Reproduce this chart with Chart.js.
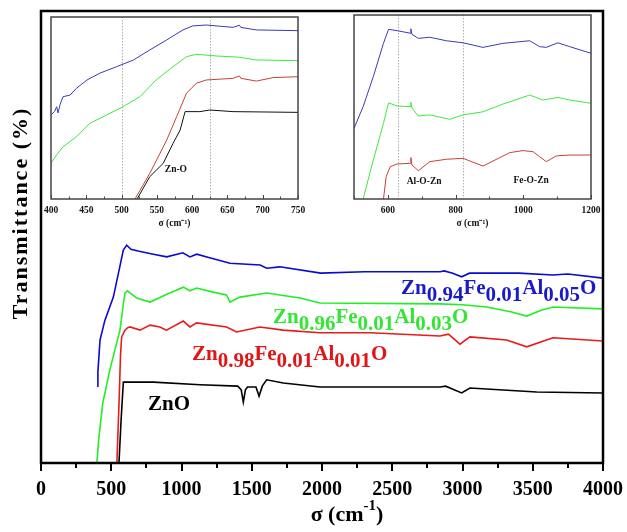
<!DOCTYPE html>
<html>
<head>
<meta charset="utf-8">
<script src="https://cdn.jsdelivr.net/npm/chart.js@4.4.1/dist/chart.umd.min.js"></script>
<style>
body { margin: 0; background: #fff; }
#wrap { position: relative; width: 627px; height: 532px; }
#wrap canvas { position: absolute; }
</style>
</head>
<body>
<div id="wrap">
  <canvas id="mainChart" width="627" height="532" style="left:0;top:0"></canvas>
  <canvas id="inset1" width="270" height="226" style="left:40px;top:8px"></canvas>
  <canvas id="inset2" width="262" height="228" style="left:343px;top:6px"></canvas>
</div>
<script>
// ---- main spectra (wavenumber, transmittance a.u.) ----
var blueX  = [400, 405, 420, 455, 515, 586, 610, 640, 690, 800, 895, 1010, 1060, 1108, 1200, 1345, 1560, 1606, 1700, 1990, 2300, 2840, 2870, 2930, 2994, 3050, 3400, 3644, 3750, 4000];
var blueY  = [17.0, 20.1, 27.2, 31.6, 36.7, 47.1, 48.2, 47.3, 46.9, 46.2, 45.6, 46.5, 45.6, 46.2, 45.4, 44.2, 43.8, 43.1, 43.4, 42.0, 42.3, 42.3, 42.5, 42.0, 41.2, 42.0, 42.0, 41.6, 41.8, 40.9];

var greenX = [398, 410, 440, 490, 562, 590, 598, 615, 681, 776, 900, 1013, 1060, 1108, 1224, 1320, 1345, 1416, 1606, 1843, 1986, 2840, 3000, 3172, 3350, 3457, 3560, 3644, 4000];
var greenY = [0, 5.1, 13.3, 20.6, 29.4, 36.1, 37.6, 38.1, 36.5, 35.6, 37.4, 38.9, 38.1, 38.7, 37.8, 37.2, 35.6, 36.7, 37.6, 36.5, 35.4, 35.2, 35.0, 34.5, 33.4, 32.5, 33.8, 34.5, 34.1];

var redX   = [540, 556, 566, 574, 598, 615, 633, 705, 776, 846, 893, 1013, 1060, 1108, 1321, 1392, 1558, 1724, 1986, 2342, 2840, 2900, 2982, 3053, 3314, 3457, 3644, 4000];
var redY   = [0, 13.9, 23.9, 27.9, 29.4, 29.9, 30.1, 29.4, 30.5, 30.1, 29.4, 31.4, 30.1, 31.0, 30.1, 29.0, 30.1, 29.4, 28.8, 28.8, 28.1, 28.5, 26.3, 27.9, 27.2, 25.7, 27.7, 27.0];

var blackX = [555, 570, 586, 800, 1132, 1400, 1425, 1440, 1455, 1470, 1530, 1552, 1575, 1606, 1724, 1986, 2840, 2880, 2994, 3053, 3528, 4000];
var blackY = [0, 9.5, 17.9, 17.9, 17.3, 17.0, 16.2, 13.5, 16.2, 16.8, 16.8, 14.8, 17.0, 18.4, 17.7, 16.8, 16.8, 17.0, 15.5, 16.6, 15.7, 15.5];

// ---- inset 1 (400-750 cm-1) ----
var in1BlueX  = [400, 405, 408, 410, 413, 417, 427, 436, 451, 469, 493, 517, 540, 564, 587, 601, 620, 658, 667, 669, 691, 750];
var in1BlueY  = [46.2, 48.0, 50.7, 47.3, 52.0, 56.2, 57.1, 60.8, 65.4, 69.1, 72.7, 76.4, 81.9, 87.4, 92.9, 95.1, 95.6, 94.3, 95.5, 94.3, 92.9, 92.5];
var in1GreenX = [400, 404, 408, 417, 436, 455, 479, 502, 526, 549, 573, 592, 606, 634, 667, 691, 750];
var in1GreenY = [19.6, 22.0, 24.2, 28.7, 34.2, 41.6, 46.2, 50.7, 56.2, 65.4, 72.7, 78.2, 79.5, 78.6, 77.9, 76.4, 76.0];
var in1RedX   = [519, 540, 564, 578, 592, 606, 620, 658, 667, 669, 691, 715, 750];
var in1RedY   = [0, 14.1, 32.4, 45.2, 58.1, 63.6, 65.4, 66.3, 67.6, 66.3, 64.8, 66.7, 67.2];
var in1BlackX = [522, 540, 559, 573, 583, 590, 611, 625, 658, 750];
var in1BlackY = [0, 12.3, 19.6, 30.6, 37.9, 48.0, 48.0, 48.9, 48.0, 47.6];
var in1Marks  = [500, 625];

// ---- inset 2 (500-1200 cm-1) ----
var in2BlueX  = [500, 527, 557, 587, 602, 627, 666, 668, 671, 690, 724, 773, 822, 881, 940, 1019, 1048, 1068, 1102, 1137, 1200];
var in2BlueY  = [38.4, 50.2, 66.5, 84.6, 92.2, 91.5, 90.1, 92.5, 89.5, 87.3, 87.9, 86.0, 84.9, 82.4, 84.6, 86.0, 82.8, 82.4, 84.9, 82.8, 79.2];
var in2GreenX = [527, 557, 587, 602, 627, 666, 668, 671, 690, 724, 783, 822, 881, 940, 1019, 1058, 1102, 1137, 1200];
var in2GreenY = [0, 21.2, 41.1, 52.3, 50.5, 50.2, 52.5, 49.5, 45.1, 45.7, 43.3, 45.7, 47.4, 51.6, 56.5, 53.8, 55.2, 53.8, 52.0];
var in2RedX   = [587, 595, 607, 627, 666, 668, 671, 690, 724, 773, 822, 881, 960, 999, 1029, 1048, 1068, 1097, 1137, 1200];
var in2RedY   = [0, 12.1, 17.6, 19.0, 19.4, 22.5, 18.5, 15.4, 20.3, 21.6, 22.1, 17.9, 25.2, 26.3, 25.7, 23.0, 20.3, 23.4, 23.9, 23.9];
var in2Marks  = [630, 822];

var FONT = '"Liberation Serif", "Times New Roman", serif';

function series(xs, ys, color, width) {
    return {
        data: xs.map(function (x, i) { return { x: x, y: ys[i] }; }),
        borderColor: color,
        borderWidth: width,
        pointRadius: 0,
        tension: 0,
        fill: false
    };
}

// keep the plot edges where we put them, labels may hang over
function noOverhang(s, h) {
    s.height = h;
    s.paddingLeft = 0;
    s.paddingRight = 0;
}

// text with subscripts: parts = [[text, isSub], ...]
function drawFormula(ctx, parts, x, y, color, size) {
    ctx.save();
    ctx.fillStyle = color;
    ctx.textBaseline = 'alphabetic';
    ctx.textAlign = 'left';
    ctx.font = 'bold ' + size + 'px ' + FONT;
    parts.forEach(function (p) {
        ctx.fillText(p[0], x, y + (p[1] ? 7 : 0));
        x += ctx.measureText(p[0]).width;
    });
    ctx.restore();
}

var mainDecor = {
    id: 'mainDecor',
    afterDraw: function (chart) {
        var ctx = chart.ctx, a = chart.chartArea, xs = chart.scales.x;
        ctx.save();
        // frame
        ctx.strokeStyle = '#000';
        ctx.lineWidth = 2.5;
        ctx.strokeRect(a.left, a.top, a.right - a.left, a.bottom - a.top);
        // ticks, major every 500, minor every 250
        ctx.lineWidth = 2;
        for (var v = 0; v <= 4000; v += 250) {
            var px = Math.round(xs.getPixelForValue(v));
            ctx.beginPath();
            ctx.moveTo(px, a.bottom);
            ctx.lineTo(px, a.bottom + (v % 500 ? 5 : 8));
            ctx.stroke();
        }
        // axis titles
        ctx.fillStyle = '#000';
        ctx.font = 'bold 22px ' + FONT;
        ctx.textBaseline = 'alphabetic';
        var t1 = 'σ (cm', t2 = '-1', t3 = ')';
        var w1 = ctx.measureText(t1).width;
        ctx.font = 'bold 15px ' + FONT;
        var w2 = ctx.measureText(t2).width;
        ctx.font = 'bold 22px ' + FONT;
        var w3 = ctx.measureText(t3).width;
        var sx = 347 - (w1 + w2 + w3) / 2;
        ctx.fillText(t1, sx, 521);
        ctx.font = 'bold 15px ' + FONT;
        ctx.fillText(t2, sx + w1, 510);
        ctx.font = 'bold 22px ' + FONT;
        ctx.fillText(t3, sx + w1 + w2, 521);

        ctx.translate(21, 213);
        ctx.rotate(-Math.PI / 2);
        ctx.textAlign = 'center';
        ctx.textBaseline = 'middle';
        ctx.font = 'bold 22px ' + FONT;
        ctx.letterSpacing = '2px';
        ctx.fillText('Transmittance (%)', 0, 0);
        ctx.restore();

        // sample labels
        drawFormula(ctx, [['Zn', 0], ['0.94', 1], ['Fe', 0], ['0.01', 1], ['Al', 0], ['0.05', 1], ['O', 0]], 401, 294, '#1a1ac8', 21);
        drawFormula(ctx, [['Zn', 0], ['0.96', 1], ['Fe', 0], ['0.01', 1], ['Al', 0], ['0.03', 1], ['O', 0]], 273, 323, '#33e633', 21);
        drawFormula(ctx, [['Zn', 0], ['0.98', 1], ['Fe', 0], ['0.01', 1], ['Al', 0], ['0.01', 1], ['O', 0]], 192, 360, '#e01515', 21);
        drawFormula(ctx, [['ZnO', 0]], 148, 410, '#000', 21);
    }
};

new Chart(document.getElementById('mainChart'), {
    type: 'line',
    data: {
        datasets: [
            series(blackX, blackY, '#000000', 1.6),
            series(redX, redY, '#e81a1a', 1.6),
            series(greenX, greenY, '#22ee22', 1.6),
            series(blueX, blueY, '#0a0ad0', 1.6)
        ]
    },
    options: {
        responsive: false,
        animation: false,
        devicePixelRatio: 1,
        layout: { padding: { left: 41, right: 24, top: 11, bottom: 0 } },
        plugins: { legend: { display: false }, tooltip: { enabled: false } },
        scales: {
            x: {
                type: 'linear', min: 0, max: 4000,
                border: { display: false },
                grid: { display: false, drawTicks: false },
                ticks: {
                    stepSize: 500, padding: 15, maxRotation: 0, color: '#000',
                    font: { family: FONT, size: 20, weight: 'bold' },
                    callback: function (v) { return String(v); }
                },
                afterFit: function (s) { noOverhang(s, 69); }
            },
            y: { min: 0, max: 100, display: false }
        }
    },
    plugins: [mainDecor]
});

function insetDecor(step, minor, marks, notes) {
    return {
        id: 'insetDecor',
        beforeDatasetsDraw: function (chart) {
            var ctx = chart.ctx, a = chart.chartArea, xs = chart.scales.x;
            ctx.save();
            ctx.strokeStyle = '#b0b0b0';
            ctx.lineWidth = 1;
            ctx.setLineDash([1.5, 1.5]);
            marks.forEach(function (m) {
                var px = Math.round(xs.getPixelForValue(m)) + 0.5;
                ctx.beginPath();
                ctx.moveTo(px, a.top);
                ctx.lineTo(px, a.bottom);
                ctx.stroke();
            });
            ctx.restore();
        },
        afterDraw: function (chart) {
            var ctx = chart.ctx, a = chart.chartArea, xs = chart.scales.x, ys = chart.scales.y;
            ctx.save();
            ctx.strokeStyle = '#444';
            ctx.lineWidth = 1.5;
            ctx.strokeRect(a.left, a.top, a.right - a.left, a.bottom - a.top);
            ctx.lineWidth = 1;
            for (var v = xs.min; v <= xs.max; v += minor) {
                var px = Math.round(xs.getPixelForValue(v)) + 0.5;
                ctx.beginPath();
                ctx.moveTo(px, a.bottom);
                ctx.lineTo(px, a.bottom - (v % step ? 2.5 : 4));
                ctx.stroke();
            }
            ctx.fillStyle = '#111';
            ctx.font = 'bold 9.5px ' + FONT;
            ctx.textAlign = 'center';
            ctx.textBaseline = 'middle';
            notes.forEach(function (n) {
                ctx.fillText(n.text, xs.getPixelForValue(n.x), ys.getPixelForValue(n.y));
            });
            ctx.restore();
        }
    };
}

function insetOptions(min, max, step, pad) {
    return {
        responsive: false,
        animation: false,
        devicePixelRatio: 1,
        layout: { padding: pad },
        plugins: { legend: { display: false }, tooltip: { enabled: false } },
        scales: {
            x: {
                type: 'linear', min: min, max: max,
                border: { display: false },
                grid: { display: false, drawTicks: false },
                ticks: {
                    stepSize: step, includeBounds: false, padding: 6, maxRotation: 0, color: '#111',
                    font: { family: FONT, size: 9.5, weight: 'bold' },
                    callback: function (v) { return String(v); }
                },
                title: {
                    display: true, text: 'σ (cm⁻¹)', color: '#111',
                    font: { family: FONT, size: 9.5, weight: 'bold' },
                    padding: { top: 2, bottom: 5 }
                },
                afterFit: function (s) { noOverhang(s, 35); }
            },
            y: { min: 0, max: 100, display: false }
        }
    };
}

new Chart(document.getElementById('inset1'), {
    type: 'line',
    data: {
        datasets: [
            series(in1BlackX, in1BlackY, '#111111', 1),
            series(in1RedX, in1RedY, '#c8403a', 1),
            series(in1GreenX, in1GreenY, '#3ee83e', 1),
            series(in1BlueX, in1BlueY, '#3a3ab8', 1)
        ]
    },
    options: insetOptions(400, 750, 50, { left: 11, right: 12, top: 9, bottom: 0 }),
    plugins: [insetDecor(50, 25, in1Marks, [{ text: 'Zn-O', x: 577, y: 16 }])]
});

new Chart(document.getElementById('inset2'), {
    type: 'line',
    data: {
        datasets: [
            series(in2RedX, in2RedY, '#c8403a', 1),
            series(in2GreenX, in2GreenY, '#3ee83e', 1),
            series(in2BlueX, in2BlueY, '#3a3ab8', 1)
        ]
    },
    options: insetOptions(500, 1200, 200, { left: 11, right: 14, top: 9, bottom: 0 }),
    plugins: [insetDecor(200, 100, in2Marks, [{ text: 'Al-O-Zn', x: 707, y: 9.4 }, { text: 'Fe-O-Zn', x: 1023, y: 10.3 }])]
});
</script>
</body>
</html>
